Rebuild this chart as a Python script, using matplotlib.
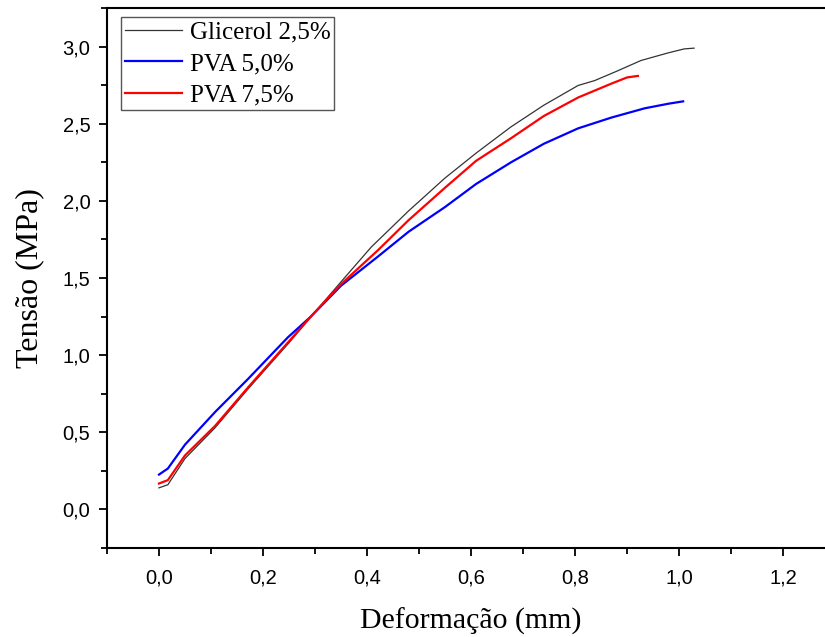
import matplotlib.pyplot as plt
from matplotlib.ticker import MultipleLocator, FuncFormatter

# ---------- data ----------
gli_x = [0.0, 0.017, 0.05, 0.108, 0.171, 0.25, 0.30, 0.35, 0.408, 0.48, 0.55,
         0.61, 0.677, 0.74, 0.806, 0.838, 0.88, 0.927, 0.98, 1.01, 1.029]
gli_y = [0.14, 0.16, 0.33, 0.53, 0.78, 1.08, 1.28, 1.475, 1.70, 1.935, 2.148,
         2.31, 2.48, 2.62, 2.748, 2.78, 2.84, 2.91, 2.96, 2.985, 2.99]

pva5_x = [0.0, 0.017, 0.05, 0.108, 0.171, 0.248, 0.292, 0.35, 0.421, 0.48, 0.55,
          0.61, 0.677, 0.74, 0.806, 0.87, 0.934, 0.98, 1.008]
pva5_y = [0.226, 0.265, 0.42, 0.632, 0.845, 1.116, 1.25, 1.45, 1.639, 1.80, 1.96,
          2.11, 2.25, 2.37, 2.47, 2.54, 2.60, 2.63, 2.645]

pva75_x = [0.0, 0.017, 0.05, 0.108, 0.171, 0.25, 0.292, 0.35, 0.421, 0.48, 0.55,
           0.61, 0.677, 0.74, 0.806, 0.87, 0.90, 0.921]
pva75_y = [0.168, 0.19, 0.35, 0.542, 0.79, 1.09, 1.25, 1.46, 1.68, 1.875, 2.085,
           2.26, 2.406, 2.55, 2.67, 2.76, 2.80, 2.81]

labels = ["Glicerol 2,5%", "PVA 5,0%", "PVA 7,5%"]

# ---------- plot ----------
fig = plt.figure(figsize=(8.25, 6.37), dpi=100)
ax = fig.add_axes([0.1297, 0.1397, 0.8824, 0.8477])

ax.plot(gli_x, gli_y, color="#333333", lw=0.9, label=labels[0])
ax.plot(pva5_x, pva5_y, color="#0000ff", lw=1.6, label=labels[1])
ax.plot(pva75_x, pva75_y, color="#ff0000", lw=1.6, label=labels[2])

ax.set_xlim(-0.1, 1.3)
ax.set_ylim(-0.25, 3.25)
ax.xaxis.set_major_locator(MultipleLocator(0.2))
ax.xaxis.set_minor_locator(MultipleLocator(0.1))
ax.yaxis.set_major_locator(MultipleLocator(0.5))
ax.yaxis.set_minor_locator(MultipleLocator(0.25))
comma = FuncFormatter(lambda v, p: f"{v:.1f}".replace(".", ","))
ax.xaxis.set_major_formatter(comma)
ax.yaxis.set_major_formatter(comma)

for s in ax.spines.values():
    s.set_linewidth(1.5)
ax.tick_params(which="major", direction="out", length=6, width=1.3,
               labelsize=14.5, top=False, right=False)
ax.tick_params(axis="x", which="major", pad=9)
ax.tick_params(axis="y", which="major", pad=6)
ax.tick_params(which="minor", direction="out", length=4, width=1.3,
               top=False, right=False)
for lab in ax.get_xticklabels() + ax.get_yticklabels():
    lab.set_family("Liberation Sans")

ax.set_xlabel("Deformação (mm)", family="Liberation Serif", fontsize=21.5, labelpad=14)
ax.set_ylabel("Tensão (MPa)", family="Liberation Serif", fontsize=23, labelpad=13)

leg = ax.legend(loc="upper left", bbox_to_anchor=(0.0192, 0.983), borderaxespad=0,
                prop={"family": "Liberation Serif", "size": 18},
                fancybox=False, framealpha=1, edgecolor="#555555",
                handlelength=2.3, handletextpad=0.3, labelspacing=0.36,
                borderpad=0.15)
leg.get_frame().set_linewidth(1.0)

fig.savefig("out.png", dpi=100)
